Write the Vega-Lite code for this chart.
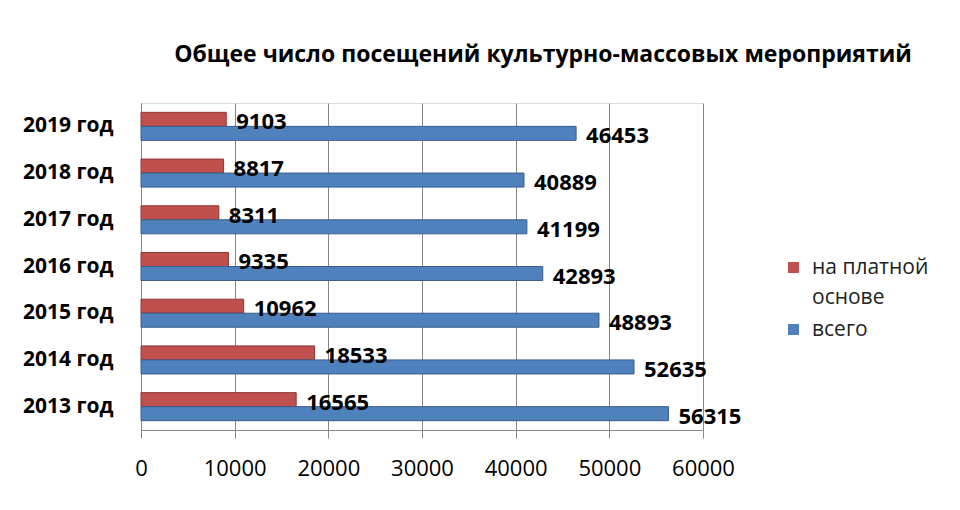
{
  "$schema": "https://vega.github.io/schema/vega-lite/v6.json",
  "width": 562,
  "height": 327,
  "autosize": {"type": "none"},
  "padding": {"left": 141, "top": 103, "right": 257, "bottom": 80},
  "background": "white",
  "title": {
    "text": "Общее число посещений культурно-массовых мероприятий",
    "font": "Open Sans",
    "fontSize": 23,
    "fontWeight": "bold",
    "color": "#000000",
    "anchor": "middle",
    "dx": 121,
    "offset": 36
  },
  "data": {
    "values": [
      {"year": "2013 год", "series": "на платной основе", "value": 16565},
      {"year": "2013 год", "series": "всего", "value": 56315},
      {"year": "2014 год", "series": "на платной основе", "value": 18533},
      {"year": "2014 год", "series": "всего", "value": 52635},
      {"year": "2015 год", "series": "на платной основе", "value": 10962},
      {"year": "2015 год", "series": "всего", "value": 48893},
      {"year": "2016 год", "series": "на платной основе", "value": 9335},
      {"year": "2016 год", "series": "всего", "value": 42893},
      {"year": "2017 год", "series": "на платной основе", "value": 8311},
      {"year": "2017 год", "series": "всего", "value": 41199},
      {"year": "2018 год", "series": "на платной основе", "value": 8817},
      {"year": "2018 год", "series": "всего", "value": 40889},
      {"year": "2019 год", "series": "на платной основе", "value": 9103},
      {"year": "2019 год", "series": "всего", "value": 46453}
    ]
  },
  "encoding": {
    "y": {
      "field": "year",
      "type": "nominal",
      "sort": "descending",
      "scale": {"paddingInner": 0.4, "paddingOuter": 0.2},
      "axis": {
        "title": null,
        "labelFont": "Open Sans",
        "labelFontSize": 21,
        "labelFontWeight": "bold",
        "labelColor": "#000000",
        "labelPadding": 28,
        "ticks": false,
        "domainColor": "#868686",
        "grid": false
      }
    },
    "yOffset": {
      "field": "series",
      "type": "nominal",
      "sort": ["на платной основе", "всего"],
      "scale": {"paddingInner": 0}
    },
    "x": {
      "field": "value",
      "type": "quantitative",
      "scale": {"domain": [0, 60000], "nice": false},
      "axis": {
        "title": null,
        "values": [0, 10000, 20000, 30000, 40000, 50000, 60000],
        "format": "d",
        "labelFont": "Open Sans",
        "labelFontSize": 22,
        "labelColor": "#000000",
        "labelPadding": 20,
        "labelOverlap": false,
        "labelBound": false,
        "labelFlush": false,
        "tickSize": 8,
        "tickColor": "#868686",
        "domainColor": "#868686",
        "gridColor": "#868686",
        "gridWidth": 1
      }
    }
  },
  "layer": [
    {
      "mark": {"type": "bar", "strokeWidth": 1},
      "encoding": {
        "color": {
          "field": "series",
          "type": "nominal",
          "scale": {
            "domain": ["на платной основе", "всего"],
            "range": ["#C0504D", "#4F81BD"]
          },
          "legend": {
            "title": null,
            "orient": "none",
            "legendX": 642,
            "legendY": 154,
            "symbolType": "square",
            "symbolSize": 120,
            "symbolStrokeWidth": 0,
            "labelFont": "Open Sans",
            "labelFontSize": 21,
            "labelColor": "#222222",
            "labelOffset": 8,
            "rowPadding": 10,
            "labelExpr": "datum.label == 'на платной основе' ? ['на платной', 'основе'] : datum.label",
            "encode": {
              "labels": {"update": {"lineHeight": {"value": 30}}}
            }
          }
        },
        "stroke": {
          "field": "series",
          "type": "nominal",
          "scale": {
            "domain": ["на платной основе", "всего"],
            "range": ["#8C3836", "#385D8A"]
          },
          "legend": null
        }
      }
    },
    {
      "mark": {
        "type": "text",
        "align": "left",
        "baseline": "middle",
        "dx": 10,
        "dy": 3,
        "font": "Open Sans",
        "fontSize": 22,
        "fontWeight": "bold",
        "color": "#000000"
      },
      "encoding": {
        "text": {"field": "value", "type": "quantitative", "format": "d"}
      }
    }
  ]
}
